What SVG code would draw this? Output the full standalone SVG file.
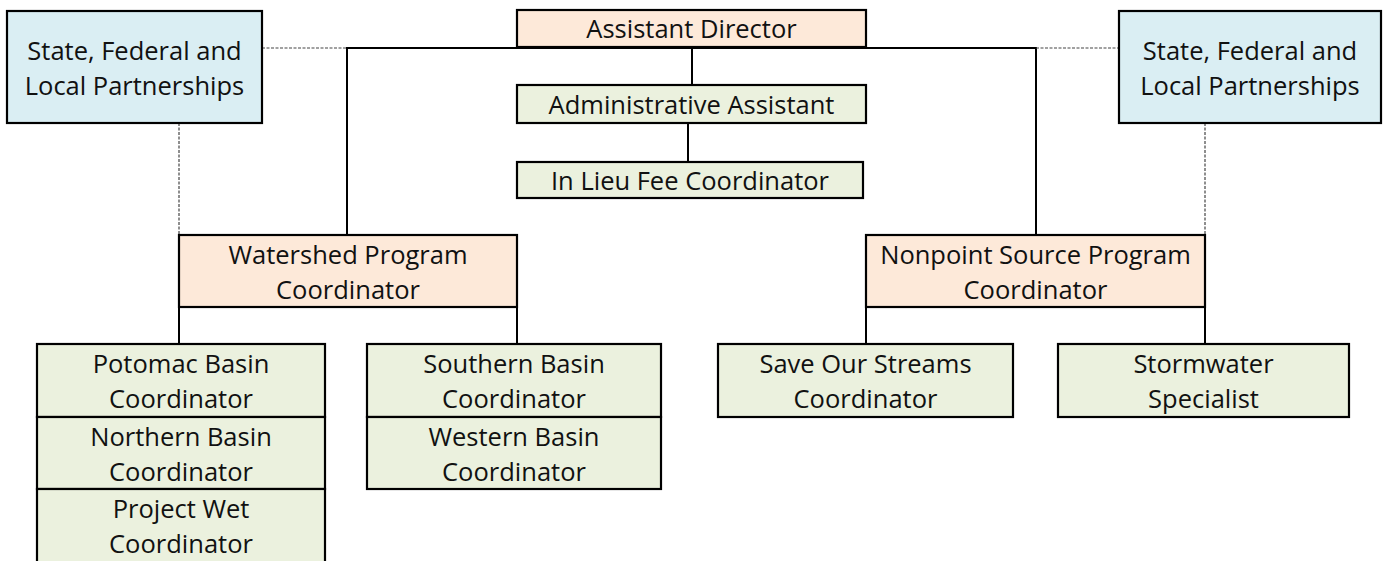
<svg xmlns="http://www.w3.org/2000/svg" width="1383" height="561" viewBox="0 0 1383 561">
<style>
.box{stroke:#000;stroke-width:2.2}
.blue{fill:#DAEEF3}
.org{fill:#FDE9D9}
.grn{fill:#EBF1DE}
.t{font-family:"Open Sans","Liberation Sans",sans-serif;font-size:25.5px;fill:#111;text-anchor:middle}
.solid{stroke:#000;stroke-width:2;fill:none}
.dot{stroke:#444;stroke-width:1.2;stroke-dasharray:3,1.5;fill:none}
</style>
<rect width="1383" height="561" fill="#fff"/>
<g id="connectors">
<polyline class="solid" points="347,235 347,48 1036,48 1036,235"/>
<line class="solid" x1="692" y1="48" x2="692" y2="85"/>
<line class="solid" x1="688" y1="123" x2="688" y2="162"/>
<line class="solid" x1="179" y1="307" x2="179" y2="344"/>
<line class="solid" x1="517" y1="307" x2="517" y2="344"/>
<line class="solid" x1="866" y1="307" x2="866" y2="344"/>
<line class="solid" x1="1205" y1="307" x2="1205" y2="344"/>
<line class="dot" x1="262" y1="48" x2="347" y2="48"/>
<line class="dot" x1="1036" y1="48" x2="1119" y2="48"/>
<line class="dot" x1="179" y1="123" x2="179" y2="235"/>
<line class="dot" x1="1205" y1="123" x2="1205" y2="235"/>
</g>
<g id="partners-left">
<rect class="box blue" x="7" y="11" width="255" height="112"/>
<text class="t" x="134.5" y="59.5">State, Federal and</text>
<text class="t" x="134.5" y="94.5">Local Partnerships</text>
</g>
<g id="partners-right">
<rect class="box blue" x="1119" y="11" width="262" height="112"/>
<text class="t" x="1250" y="59.5">State, Federal and</text>
<text class="t" x="1250" y="94.5">Local Partnerships</text>
</g>
<g id="assistant-director">
<rect class="box org" x="517" y="10" width="349" height="37"/>
<text class="t" x="691.5" y="38">Assistant Director</text>
</g>
<g id="admin-assistant">
<rect class="box grn" x="517" y="85" width="349" height="38"/>
<text class="t" x="691.5" y="113.5">Administrative Assistant</text>
</g>
<g id="in-lieu-fee">
<rect class="box grn" x="517" y="162" width="346" height="36"/>
<text class="t" x="690" y="189.5">In Lieu Fee Coordinator</text>
</g>
<g id="watershed">
<rect class="box org" x="179" y="235" width="338" height="72"/>
<text class="t" x="348" y="263.5">Watershed Program</text>
<text class="t" x="348" y="298.5">Coordinator</text>
</g>
<g id="nonpoint">
<rect class="box org" x="866" y="235" width="339" height="72"/>
<text class="t" x="1035.5" y="263.5">Nonpoint Source Program</text>
<text class="t" x="1035.5" y="298.5">Coordinator</text>
</g>
<g id="potomac">
<rect class="box grn" x="37" y="344" width="288" height="73"/>
<text class="t" x="181" y="373">Potomac Basin</text>
<text class="t" x="181" y="408">Coordinator</text>
</g>
<g id="northern">
<rect class="box grn" x="37" y="417" width="288" height="72"/>
<text class="t" x="181" y="445.5">Northern Basin</text>
<text class="t" x="181" y="480.5">Coordinator</text>
</g>
<g id="project-wet">
<rect class="box grn" x="37" y="489" width="288" height="76"/>
<text class="t" x="181" y="517.5">Project Wet</text>
<text class="t" x="181" y="552.5">Coordinator</text>
</g>
<g id="southern">
<rect class="box grn" x="367" y="344" width="294" height="73"/>
<text class="t" x="514" y="373">Southern Basin</text>
<text class="t" x="514" y="408">Coordinator</text>
</g>
<g id="western">
<rect class="box grn" x="367" y="417" width="294" height="72"/>
<text class="t" x="514" y="445.5">Western Basin</text>
<text class="t" x="514" y="480.5">Coordinator</text>
</g>
<g id="save-our-streams">
<rect class="box grn" x="718" y="344" width="295" height="73"/>
<text class="t" x="865.5" y="373">Save Our Streams</text>
<text class="t" x="865.5" y="408">Coordinator</text>
</g>
<g id="stormwater">
<rect class="box grn" x="1058" y="344" width="291" height="73"/>
<text class="t" x="1203.5" y="373">Stormwater</text>
<text class="t" x="1203.5" y="408">Specialist</text>
</g>
</svg>
